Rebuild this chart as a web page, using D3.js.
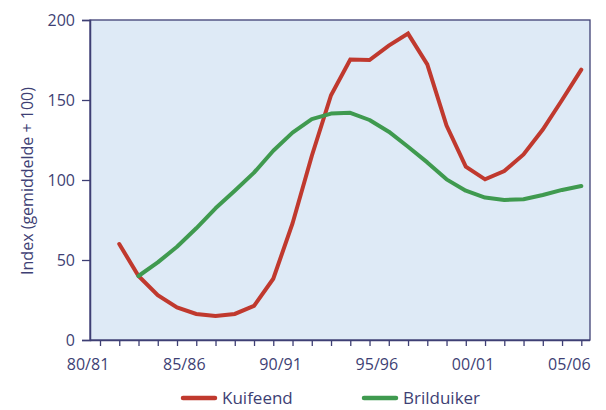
<!DOCTYPE html>
<html><head><meta charset="utf-8">
<script src="https://cdn.jsdelivr.net/npm/d3@7"></script>
<style>body{margin:0;background:#fff;}svg{display:block;font-family:"Open Sans",sans-serif;}</style>
</head><body><svg id="c" width="606" height="410"></svg>
<script>
// tick positions = season index (0 = 81/82 ... 25 = 06/07)
const tickIdx = d3.range(0, 26);
const xLabels = ["80/81", "85/86", "90/91", "95/96", "00/01", "05/06"];
const xLabelIdx = [-1, 4, 9, 14, 19, 24];
const yTicks = [0, 50, 100, 150, 200];

const kuifeendIdx = d3.range(1, 26);
const kuifeend = [60, 40, 28, 20.3, 16.3, 15, 16.3, 21.3, 38.3, 72.8, 115, 153, 175.3, 175, 184, 191.5, 172.3, 134, 108.3, 100.4, 105.6, 116, 131.5, 150, 169];
const brilduikerIdx = d3.range(2, 26);
const brilduiker = [40, 48.5, 58.3, 69.8, 82.3, 93.3, 104.6, 118.3, 129.6, 138, 141.5, 142, 137.5, 130.2, 120.8, 111, 100.4, 93.3, 89, 87.5, 88, 90.6, 93.8, 96.3];
const seriesNames = ["Kuifeend", "Brilduiker"];
const colors = ["#c0392e", "#3f9a4f"];

const svg = d3.select("#c");
const L = 90, R = 590, T = 20, B = 340;
const x = d3.scaleLinear().domain([0, 25]).range([100, 581.3]);
const y = d3.scaleLinear().domain([0, 200]).range([B, T]);
const ink = "#3e3f74";

svg.append("rect").attr("x", L).attr("y", T).attr("width", R - L).attr("height", B - T)
  .attr("fill", "#deeaf6").attr("stroke", ink).attr("stroke-width", 1.3);

// y axis
const yAxis = svg.append("g").attr("transform", `translate(${L},0)`)
  .call(d3.axisLeft(y).tickValues(yTicks).tickSize(8).tickPadding(7));
yAxis.select(".domain").attr("stroke", ink).attr("stroke-width", 1.5);
yAxis.selectAll(".tick line").attr("stroke", ink).attr("stroke-width", 1.3);
yAxis.selectAll(".tick text").attr("fill", ink).attr("font-size", 16).attr("font-family", "Open Sans");

// x axis ticks
const xAxis = svg.append("g").attr("transform", `translate(0,${B})`)
  .call(d3.axisBottom(x).tickValues(tickIdx).tickSize(6).tickFormat(""));
xAxis.select(".domain").attr("d", `M${L},0.5H${R}`).attr("stroke", ink).attr("stroke-width", 1.5);
xAxis.selectAll(".tick line").attr("stroke", ink).attr("stroke-width", 1.3);

svg.append("g").selectAll("text").data(xLabels).join("text")
  .attr("x", (d, i) => x(xLabelIdx[i]) + 7.3).attr("y", 370)
  .attr("text-anchor", "middle").attr("fill", ink).attr("font-size", 16)
  .text(d => d);

svg.append("text").attr("transform", "translate(33,181) rotate(-90)")
  .attr("text-anchor", "middle").attr("fill", ink).attr("font-size", 16)
  .text("Index (gemiddelde + 100)");

const line = d3.line().x(d => x(d[0])).y(d => y(d[1]));
const dataSets = [
  kuifeendIdx.map((d, i) => [d, kuifeend[i]]),
  brilduikerIdx.map((d, i) => [d, brilduiker[i]])
];
svg.append("path").attr("d", line(dataSets[0])).attr("fill", "none")
  .attr("stroke", colors[0]).attr("stroke-width", 4).attr("stroke-linejoin", "miter").attr("stroke-linecap", "round");
svg.append("path").attr("d", line(dataSets[1])).attr("fill", "none")
  .attr("stroke", colors[1]).attr("stroke-width", 4).attr("stroke-linejoin", "round").attr("stroke-linecap", "round");

// legend
const legX = [183, 364];
const lg = svg.append("g");
seriesNames.forEach((n, i) => {
  lg.append("line").attr("x1", legX[i]).attr("x2", legX[i] + 32).attr("y1", 398).attr("y2", 398)
    .attr("stroke", colors[i]).attr("stroke-width", 4.5).attr("stroke-linecap", "round");
  lg.append("text").attr("x", legX[i] + 39).attr("y", 404).attr("fill", ink).attr("font-size", 17).text(n);
});
</script></body></html>
